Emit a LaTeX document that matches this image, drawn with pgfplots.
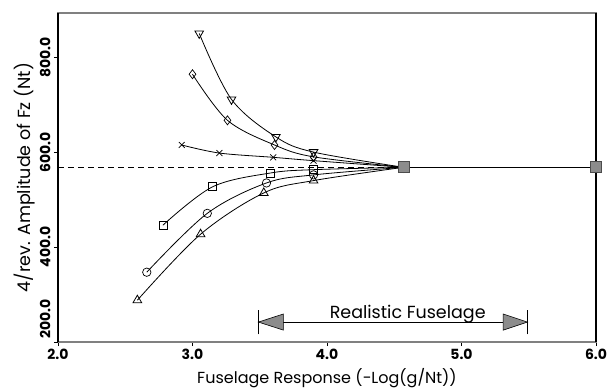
\documentclass[border=0pt]{standalone}
\usepackage{pgfplots}
\pgfplotsset{compat=1.18}
\usepackage{fontspec}
\setmainfont{Poppins}
\begin{document}
\begin{tikzpicture}
\useasboundingbox (-58pt,-47pt) rectangle (552pt,342pt);
\begin{axis}[
  width=538pt, height=329pt, scale only axis,
  xmin=2, xmax=6, ymin=200, ymax=893,
  xtick={2,3,4,5,6}, ytick={400,600,800},
  extra y ticks={200},
  extra y tick style={yticklabel style={anchor=south west}},
  /pgf/number format/.cd, fixed, fixed zerofill, precision=1, assume math mode=true,
  /pgfplots/.cd,
  tick align=outside, xtick pos=bottom, ytick pos=left,
  major tick length=4pt,
  tick style={line width=0.8pt, black},
  ticklabel style={font=\fontsize{14}{14}\selectfont\bfseries},
  yticklabel style={rotate=90, anchor=south},
  axis line style={line width=1.8pt, black!50},
  xlabel={Fuselage Response (−Log(g/Nt))},
  ylabel={4/rev. Amplitude of Fz (Nt)},
  xlabel style={font=\fontsize{16}{16}\selectfont, at={(axis description cs:0.5,-0.11)}, anchor=center},
  ylabel style={font=\fontsize{17.5}{17.5}\selectfont, at={(axis description cs:-0.062,0.5)}, anchor=center},
  clip=false,
  every axis plot/.append style={line width=0.8pt, black},
  mk/.style={mark options={solid, fill=white, line width=0.7pt}, mark size=4.2pt},
]
% dashed reference line
\addplot[dashed, dash pattern=on 6pt off 4pt, line width=0.9pt] coordinates {(2.0,568) (4.57,568)};
% series
\addplot[smooth, tension=0.55, mark=triangle, mk, mark size=5pt, mark options={rotate=180}] coordinates {(3.05,850) (3.29,711) (3.62,632) (3.90,600) (4.57,568)};
\addplot[smooth, tension=0.55, mark=diamond, mk, mark size=4.5pt] coordinates {(3.00,764) (3.26,667) (3.61,615) (3.90,590) (4.57,568)};
\addplot[smooth, tension=0.55, mark=x, mk] coordinates {(2.92,615) (3.20,598) (3.60,589) (3.90,582) (4.57,568)};
\addplot[smooth, tension=0.55, mark=square, mk, mark size=4pt] coordinates {(2.78,446) (3.15,527) (3.58,556) (3.90,563) (4.57,568)};
\addplot[smooth, tension=0.55, mark=o, mk] coordinates {(2.66,347) (3.11,471) (3.55,535) (3.90,552) (4.57,568)};
\addplot[smooth, tension=0.55, mark=triangle, mk, mark size=5pt, mark options={fill=black!40}] coordinates {(2.59,288) (3.06,427) (3.53,514) (3.90,540) (4.57,568)};
% common part
\addplot[line width=1.1pt, mark=square*, mark size=5.5pt, mark options={fill=black!45, draw=black!70}] coordinates {(4.57,568) (6.0,568)};
% frame sides
\draw[line width=1.8pt, black] (rel axis cs:0,0) -- (rel axis cs:0,1);
\draw[line width=1.8pt, black] (rel axis cs:1,0) -- (rel axis cs:1,1);
% Realistic fuselage annotation
\draw[line width=0.8pt] (axis cs:3.676,242) -- (axis cs:5.31,242);
\filldraw[fill=black!45, draw=black, line width=0.6pt] (axis cs:3.49,242) -- (axis cs:3.676,259) -- (axis cs:3.676,225) -- cycle;
\filldraw[fill=black!45, draw=black, line width=0.6pt] (axis cs:5.49,242) -- (axis cs:5.31,259) -- (axis cs:5.31,225) -- cycle;
\draw[line width=0.8pt] (axis cs:3.49,216) -- (axis cs:3.49,268);
\draw[line width=0.8pt] (axis cs:5.49,216) -- (axis cs:5.49,268);
\node[anchor=base, font=\fontsize{17.5}{17.5}\selectfont] at (axis cs:4.60,250) {Realistic Fuselage};
\end{axis}
\end{tikzpicture}
\end{document}
